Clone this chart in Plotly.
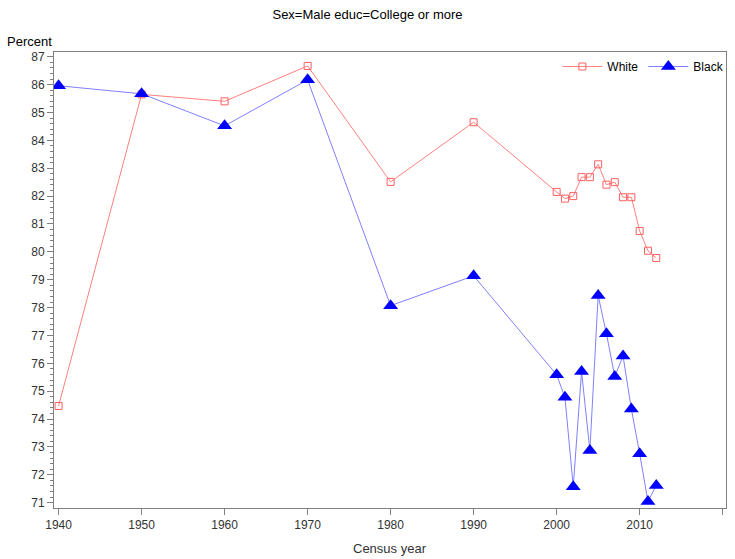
import plotly.graph_objects as go

years = [1940, 1950, 1960, 1970, 1980, 1990, 2000, 2001, 2002, 2003, 2004, 2005,
         2006, 2007, 2008, 2009, 2010, 2011, 2012]
white = [74.47, 85.65, 85.40, 86.67, 82.51, 84.65, 82.15, 81.91, 82.00, 82.68, 82.68,
         83.14, 82.41, 82.50, 81.96, 81.96, 80.75, 80.04, 79.78]
black = [85.96, 85.67, 84.52, 86.17, 78.07, 79.14, 75.59, 74.78, 71.57, 75.71, 72.87,
         78.43, 77.06, 75.53, 76.26, 74.36, 72.76, 71.04, 71.62]

title_text = "Sex=Male educ=College or more"
x_title = "Census year"
y_title = "Percent"

FONT = "Liberation Sans, Arial, sans-serif"

fig = go.Figure()
fig.add_trace(go.Scatter(
    x=years, y=white, name="White", mode="lines+markers",
    line=dict(color="#FF8080", width=1),
    marker=dict(symbol="square-open", size=7, color="#FF6060", line=dict(width=1)),
))
fig.add_trace(go.Scatter(
    x=years, y=black, name="Black", mode="lines+markers",
    line=dict(color="#8080FF", width=1),
    marker=dict(symbol="triangle-up", size=13, color="#0000FF"),
))

fig.update_layout(
    width=735, height=559,
    margin=dict(l=54, r=9, t=52, b=51, autoexpand=False),
    paper_bgcolor="white", plot_bgcolor="white",
    font=dict(family=FONT, size=12, color="#333333"),
    title=dict(text=title_text, x=0.5, xanchor="center", y=1 - 14/559, yanchor="middle",
               font=dict(family=FONT, size=13, color="#000000")),
    showlegend=True,
    legend=dict(orientation="h", x=1.005, xanchor="right", y=1, yanchor="top",
                bgcolor="rgba(0,0,0,0)", font=dict(size=12, color="#000000"),
                itemwidth=40, traceorder="normal"),
    xaxis=dict(
        range=[1939.45, 2020.4], tickmode="linear", tick0=1940, dtick=10,
        showgrid=False, zeroline=False, automargin=False,
        showline=True, linecolor="#808080", linewidth=1, mirror=True,
        ticks="outside", ticklen=6, tickcolor="#808080",
        tickfont=dict(size=12, color="#333333"),
        title=dict(text=""),
    ),
    yaxis=dict(
        range=[70.81, 87.17], tickmode="linear", tick0=71, dtick=1,
        showgrid=False, zeroline=False, automargin=False,
        showline=True, linecolor="#808080", linewidth=1, mirror=True,
        ticks="outside", ticklen=6, tickcolor="#808080",
        tickfont=dict(size=12, color="#333333"),
        minor=dict(dtick=0.2, ticks="outside", ticklen=3, tickcolor="#808080", showgrid=False),
    ),
    annotations=[
        dict(text=y_title, xref="paper", yref="paper", x=-49/672, y=1,
             xanchor="left", yanchor="bottom", yshift=1, showarrow=False,
             font=dict(family=FONT, size=13, color="#000000")),
        dict(text=x_title, xref="paper", yref="paper", x=0.5, y=0,
             xanchor="center", yanchor="middle", yshift=-40, showarrow=False,
             font=dict(family=FONT, size=13, color="#333333")),
    ],
)

fig.write_html("out.html")
